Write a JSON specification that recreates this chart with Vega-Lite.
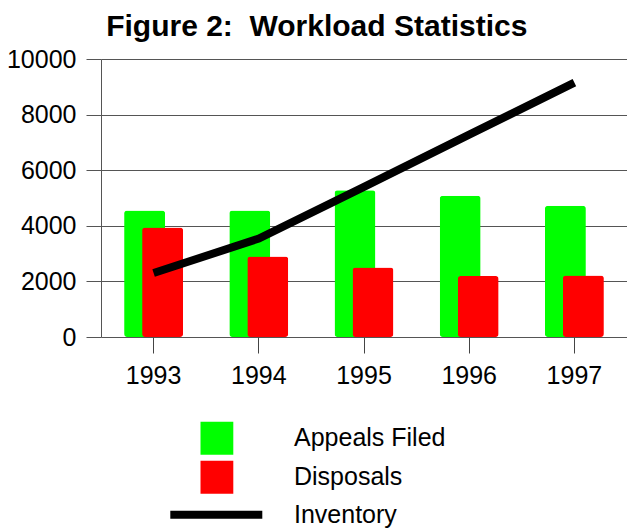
{
  "$schema": "https://vega.github.io/schema/vega-lite/v6.json",
  "width": 526,
  "height": 278,
  "autosize": "none",
  "padding": {"left": 101, "top": 59, "right": 0, "bottom": 192},
  "background": "white",
  "config": {"view": {"stroke": null}, "font": "Liberation Sans"},
  "title": {
    "text": "Figure 2:\u00a0 Workload Statistics",
    "font": "Liberation Sans",
    "fontSize": 30,
    "fontWeight": "bold",
    "color": "black",
    "anchor": "middle",
    "frame": "bounds",
    "offset": 5
  },
  "data": {
    "values": [
      {"year": "1993", "appeals": 4550, "disposals": 3940, "inventory": 2300},
      {"year": "1994", "appeals": 4550, "disposals": 2900, "inventory": 3540},
      {"year": "1995", "appeals": 5280, "disposals": 2500, "inventory": 5400},
      {"year": "1996", "appeals": 5080, "disposals": 2190, "inventory": 7280},
      {"year": "1997", "appeals": 4720, "disposals": 2210, "inventory": 9150}
    ]
  },
  "encoding": {
    "x": {
      "field": "year",
      "type": "ordinal",
      "scale": {"paddingInner": 0, "paddingOuter": 0},
      "axis": {
        "title": null,
        "labelAngle": 0,
        "domain": false,
        "ticks": true,
        "tickSize": 16,
        "tickColor": "#444444",
        "labelPadding": 10,
        "labelFont": "Liberation Sans",
        "labelFontSize": 25,
        "labelColor": "black"
      }
    }
  },
  "layer": [
    {
      "mark": {"type": "bar", "width": 41, "xOffset": -9, "cornerRadius": 3},
      "encoding": {
        "y": {
          "field": "appeals",
          "type": "quantitative",
          "scale": {"domain": [0, 10000], "nice": false},
          "axis": {
            "title": null,
            "format": "d",
            "values": [0, 2000, 4000, 6000, 8000, 10000],
            "grid": true,
            "gridColor": "#555555",
            "gridOpacity": 1,
            "domain": true,
            "domainColor": "#555555",
            "ticks": true,
            "tickSize": 15,
            "tickColor": "#555555",
            "labelPadding": 10,
            "labelFont": "Liberation Sans",
            "labelFontSize": 25,
            "labelColor": "black"
          }
        },
        "fill": {
          "datum": "Appeals Filed",
          "type": "nominal",
          "scale": {
            "domain": ["Appeals Filed", "Disposals"],
            "range": ["#00ff00", "#ff0000"]
          },
          "legend": {
            "title": null,
            "orient": "none",
            "legendX": 99.3,
            "legendY": 360,
            "direction": "vertical",
            "padding": 0,
            "clipHeight": 38.3,
            "rowPadding": 0,
            "symbolType": "square",
            "symbolSize": 1089,
            "symbolStrokeWidth": 0,
            "symbolOpacity": 1,
            "labelOffset": 60.7,
            "labelFont": "Liberation Sans",
            "labelFontSize": 25,
            "labelColor": "black",
            "labelLimit": 300
          }
        }
      }
    },
    {
      "mark": {"type": "bar", "width": 41, "xOffset": 9, "cornerRadius": 3},
      "encoding": {
        "y": {"field": "disposals", "type": "quantitative"},
        "fill": {"datum": "Disposals", "type": "nominal"}
      }
    },
    {
      "mark": {"type": "line", "strokeWidth": 8, "strokeCap": "butt"},
      "encoding": {
        "y": {"field": "inventory", "type": "quantitative"},
        "stroke": {
          "datum": "Inventory",
          "type": "nominal",
          "scale": {"domain": ["Inventory"], "range": ["#000000"]},
          "legend": {
            "title": null,
            "orient": "none",
            "legendX": 65.3,
            "legendY": 436.6,
            "direction": "vertical",
            "padding": 0,
            "clipHeight": 38.3,
            "rowPadding": 0,
            "symbolType": "stroke",
            "symbolSize": 8464,
            "symbolStrokeWidth": 8,
            "symbolOpacity": 1,
            "labelOffset": 27.7,
            "labelFont": "Liberation Sans",
            "labelFontSize": 25,
            "labelColor": "black",
            "labelLimit": 300
          }
        }
      }
    }
  ]
}
